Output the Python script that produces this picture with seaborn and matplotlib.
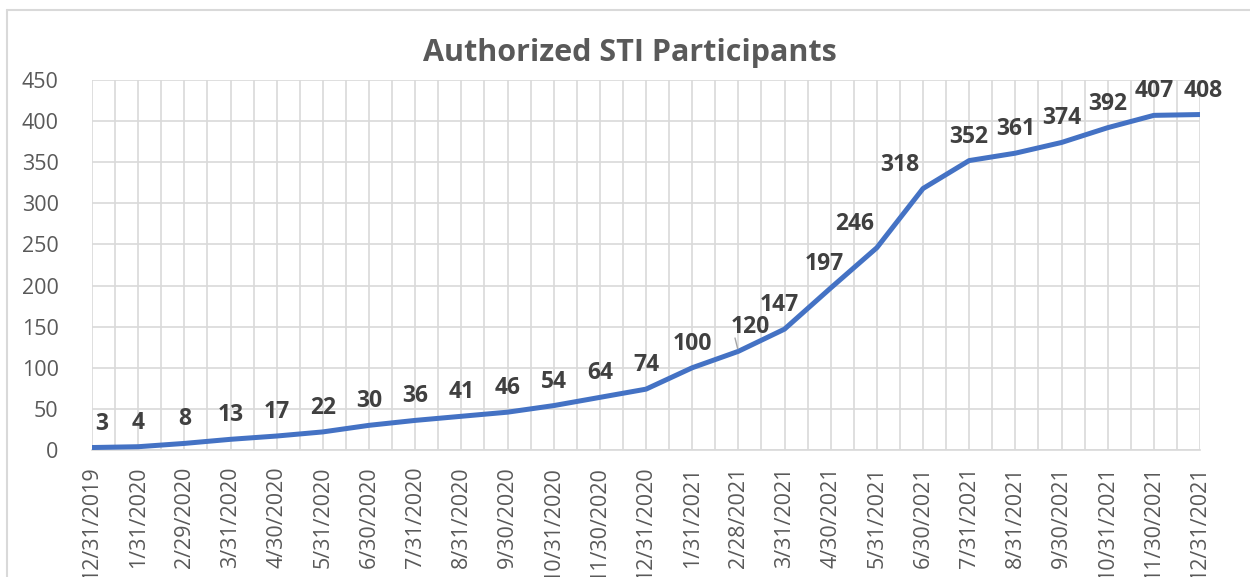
import numpy as np
import pandas as pd
import seaborn as sns
import matplotlib.pyplot as plt
from matplotlib.lines import Line2D
from matplotlib.ticker import MultipleLocator

# monthly totals
dates = ['12/31/2019', '1/31/2020', '2/29/2020', '3/31/2020', '4/30/2020',
         '5/31/2020', '6/30/2020', '7/31/2020', '8/31/2020', '9/30/2020',
         '10/31/2020', '11/30/2020', '12/31/2020', '1/31/2021', '2/28/2021',
         '3/31/2021', '4/30/2021', '5/31/2021', '6/30/2021', '7/31/2021',
         '8/31/2021', '9/30/2021', '10/31/2021', '11/30/2021', '12/31/2021']
participants = [3, 4, 8, 13, 17, 22, 30, 36, 41, 46, 54, 64, 74, 100, 120,
                147, 197, 246, 318, 352, 361, 374, 392, 407, 408]
y_ticks = [0, 50, 100, 150, 200, 250, 300, 350, 400, 450]

df = pd.DataFrame({'pos': np.arange(len(dates)), 'date': dates,
                   'n': participants})

sns.set_style("white")
plt.rcParams['font.family'] = ['Open Sans', 'DejaVu Sans']

grey = '#595959'
grid = '#D9D9D9'

fig = plt.figure(figsize=(12.5, 5.77), dpi=100)
ax = fig.add_axes([92 / 1250, 1 - 450 / 577, 1108 / 1250, 370 / 577])

sns.lineplot(data=df, x='pos', y='n', color='#4472C4', lw=3.6, ax=ax,
             solid_capstyle='round', zorder=3)

ax.set_xlim(0, len(dates) - 1)
ax.set_ylim(0, 450)
ax.set_yticks(y_ticks)
ax.set_xticks(df['pos'])
ax.set_xticklabels(dates, rotation=90)
ax.xaxis.set_minor_locator(MultipleLocator(0.5))
ax.grid(True, which='both', axis='x', color=grid, lw=1.2)
ax.grid(True, which='major', axis='y', color=grid, lw=1.2)
ax.set_xlabel('')
ax.set_ylabel('')

for s in ['top', 'right', 'left']:
    ax.spines[s].set_visible(False)
ax.spines['bottom'].set_color(grid)
ax.spines['bottom'].set_linewidth(1.2)

ax.tick_params(axis='x', which='major', length=8, width=1.2, color=grid,
               labelsize=15.5, labelcolor=grey, pad=4)
ax.tick_params(axis='x', which='minor', length=0)
ax.tick_params(axis='y', length=0, labelsize=15.5, labelcolor=grey, pad=24)

# data labels, shifted left where the line climbs steeply
shift = {0: 10, 15: -5, 16: -6, 17: -22, 18: -23, 14: 12, 24: 3}
for i, v in enumerate(participants):
    dx = shift.get(i, 0)
    ax.annotate(str(v), (i, v), xytext=(dx, 24), textcoords='offset pixels',
                ha='center', va='center', fontsize=16.5, fontweight='bold',
                color='#404040', zorder=4)

# leader line for the 120 label
ax.annotate('', (14, 120), xytext=(-4, 16), textcoords='offset pixels',
            arrowprops=dict(arrowstyle='-', color='#A6A6A6', lw=1))

fig.text(630 / 1250, 1 - 53 / 577, 'Authorized STI Participants',
         ha='center', va='center', fontsize=22, fontweight='bold', color=grey)

# chart area border
fig.add_artist(Line2D([7 / 1250, 7 / 1250], [0, 1 - 10 / 577],
                      transform=fig.transFigure, color=grid, lw=1.5))
fig.add_artist(Line2D([7 / 1250, 1], [1 - 10 / 577, 1 - 10 / 577],
                      transform=fig.transFigure, color=grid, lw=1.5))

fig.savefig('out.png', dpi=100)
